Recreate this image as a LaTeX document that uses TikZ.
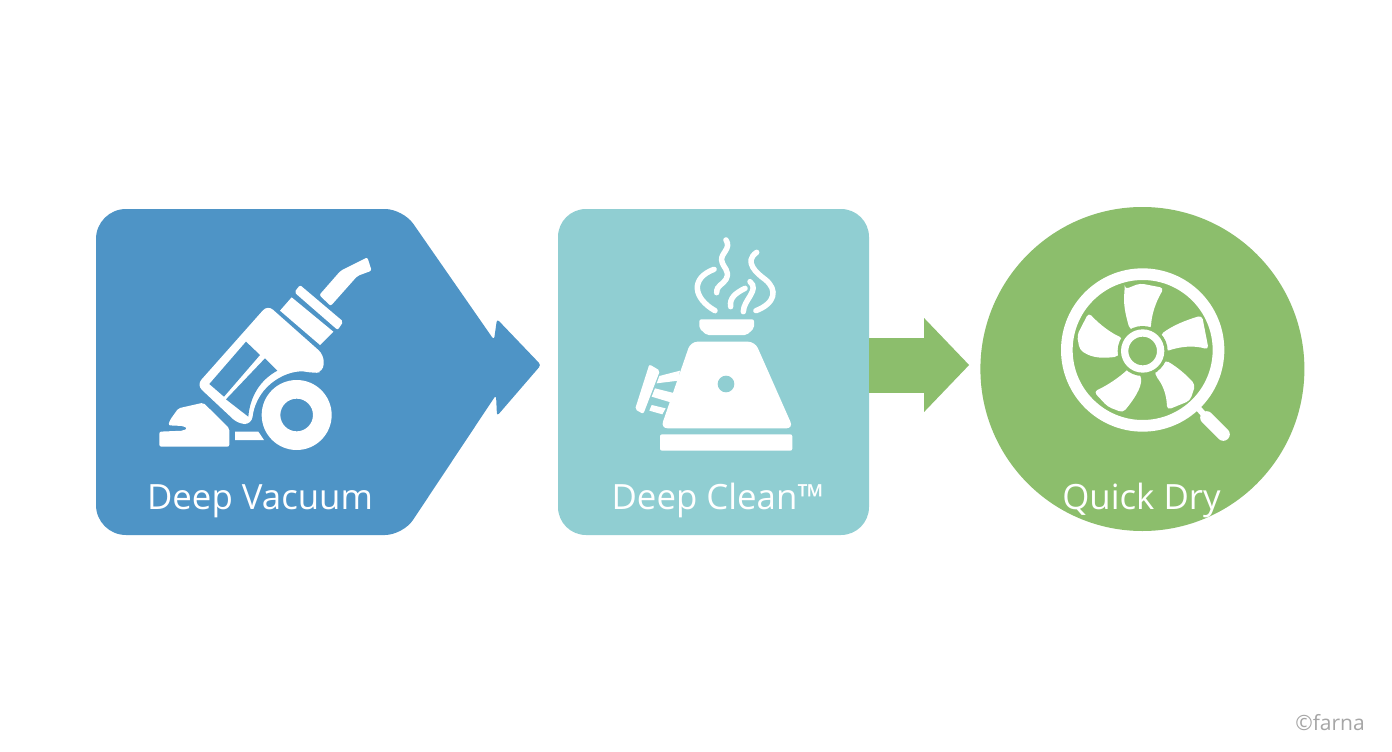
\documentclass[tikz,border=0pt]{standalone}
\usepackage{fontspec}
\setmainfont{Open Sans}
\usepackage{xcolor}
\usetikzlibrary{arrows.meta}
\usetikzlibrary{positioning}
\definecolor{vacblue}{HTML}{4E94C6}
\definecolor{cleanteal}{HTML}{90CED2}
\definecolor{drygreen}{HTML}{8CBE6C}

\begin{document}
\begin{tikzpicture}[
        x=1pt, y=-1pt,
        stage/.style={minimum width=311pt, minimum height=326pt, rounded corners=28pt, fill=cleanteal},
        round stage/.style={circle, minimum size=324pt, fill=drygreen},
        label text/.style={text=white, font=\fontsize{34.8}{40}\selectfont, inner sep=0pt, anchor=base},
        icon/.style={fill=white, rounded corners=2pt},
        blade/.style={fill=white, rounded corners=4pt},
        steam/.style={draw=white, line width=5.5pt, line cap=round}
        ]
        \useasboundingbox (0,0) rectangle (1392,752);
        \fill[white] (0,0) rectangle (1392,752);

        % Shapes
        \fill[vacblue, rounded corners=30pt] (96,372) -- (96,209)
            [rounded corners=18pt] -- (403,209)
            [rounded corners=3pt] -- (494,340) -- (497,319) -- (541,365) -- (497,416) -- (496,395)
            [rounded corners=18pt] -- (403,535)
            [rounded corners=30pt] -- (96,535) -- cycle;
        \node[stage] (clean) at (713.5,372) {};
        \node[round stage, right=111pt of clean, yshift=3pt] (dry) {};

        % Arrows
        \draw[drygreen, line width=55pt, shorten >=11pt, -{Triangle[length=45pt, width=91pt]}] ([yshift=7pt]clean.east) -- ([yshift=4pt]dry.west);

        % Labels
        \node[label text] (vaclabel) at (260,509) {Deep Vacuum};
        \node[label text] (cleanlabel) at (718,509) {Deep Clean™};
        \node[label text] (drylabel) at (1141.5,509) {Quick Dry};
        \node[text=gray!70, font=\fontsize{21}{22}\selectfont, inner sep=0pt] (mark) at (1330,723) {©farna};

        % Vacuum icon
        \begin{scope}[shift={(150,240)}, scale=1/3]
            \fill[icon] (508,165) -- (572,92) -- (652,52) -- (665,92) -- (622,108) -- (542,198) -- cycle;
            \fill[icon] (450,135) -- (580,245) -- (563,270) -- (433,157) -- cycle;
            \fill[white] (425,172) -- (550,275) -- (510,315) -- (390,212) -- cycle;
            \fill[white, rounded corners=7pt] (140,435) -- (353,195) -- (522,345) -- (520,395) -- (490,400) .. controls (420,385) and (320,430) .. (305,552) -- (265,552) -- cycle;
            \fill[vacblue] (178,432) -- (288,305) -- (330,345) -- (222,470) -- cycle;
            \fill[vacblue] (345,355) -- (382,392) .. controls (330,420) and (300,470) .. (295,530) -- (228,478) -- cycle;
            \fill[icon] (28,575) -- (100,572) -- (112,565) -- (100,558) -- (55,556) -- (60,540) -- (85,505) -- (160,488) -- (238,565) -- (238,620) -- (28,620) -- cycle;
            \fill[white] (255,575) -- (325,575) -- (342,600) -- (255,600) -- cycle;
            \fill[white, even odd rule] (440,525) circle[radius=105] (440,525) circle[radius=49];
        \end{scope}

        % Steam icon
        \begin{scope}[shift={(600,220)}, scale=1/3]
            \draw[steam] (378,60) .. controls (395,85) and (362,100) .. (365,120) .. controls (368,145) and (392,150) .. (378,178) .. controls (368,195) and (350,195) .. (350,218);
            \draw[steam] (342,148) .. controls (270,175) and (280,235) .. (345,272);
            \draw[steam] (470,97) .. controls (430,125) and (470,160) .. (495,178) .. controls (535,210) and (525,250) .. (468,272);
            \draw[steam] (435,205) .. controls (405,220) and (388,235) .. (392,260);
            \draw[steam] (450,185) .. controls (480,210) and (430,240) .. (430,275);
            \fill[icon] (298,298) -- (462,298) -- (462,325) -- (440,345) -- (320,345) -- (298,325) -- cycle;
            \fill[white, rounded corners=7pt] (272,365) -- (465,365) -- (580,625) -- (182,625) -- cycle;
            \fill[cleanteal] (378,492) circle[radius=25];
            \fill[icon] (180,643) rectangle (577,692);
            \fill[icon] (148,433) -- (180,452) -- (130,582) -- (105,568) -- cycle;
            \fill[white] (178,468) -- (240,452) -- (235,482) -- (170,490) -- cycle;
            \fill[white] (165,505) -- (225,520) -- (215,548) -- (155,530) -- cycle;
            \fill[white] (155,555) -- (197,565) -- (187,583) -- (148,572) -- cycle;
        \end{scope}

        % Fan icon
        \begin{scope}[shift={(1040,250)}, scale=1/3]
            \draw[white, line width=6pt] (475,475) -- (500,503);
            \draw[white, line width=13pt, line cap=round] (500,503) -- (550,553);
            \fill[white, even odd rule] (308,300) circle[radius=245] (308,300) circle[radius=210];
            \fill[blade] (254,118) -- (300,100) -- (372,114) .. controls (345,160) and (335,195) .. (332,240) -- (270,240) .. controls (255,190) and (250,160) .. (254,118) -- cycle;
            \fill[blade] (360,255) .. controls (400,225) and (440,210) .. (486,196) -- (506,299) .. controls (460,285) and (420,290) .. (375,305) -- cycle;
            \fill[blade] (345,375) -- (375,330) .. controls (410,350) and (440,375) .. (466,405) -- (450,452) -- (381,480) .. controls (380,430) and (365,400) .. (345,375) -- cycle;
            \fill[blade] (303,375) .. controls (305,415) and (280,450) .. (249,488) -- (203,470) -- (161,425) .. controls (205,405) and (240,380) .. (270,352) -- cycle;
            \fill[blade] (146,188) .. controls (180,225) and (215,250) .. (250,265) -- (235,320) .. controls (195,324) and (160,327) .. (119,299) -- (111,256) -- cycle;
            \fill[drygreen] (308,303) circle[radius=75];
            \fill[white, even odd rule] (308,303) circle[radius=65] (308,303) circle[radius=43];
        \end{scope}

\end{tikzpicture}
\end{document}
